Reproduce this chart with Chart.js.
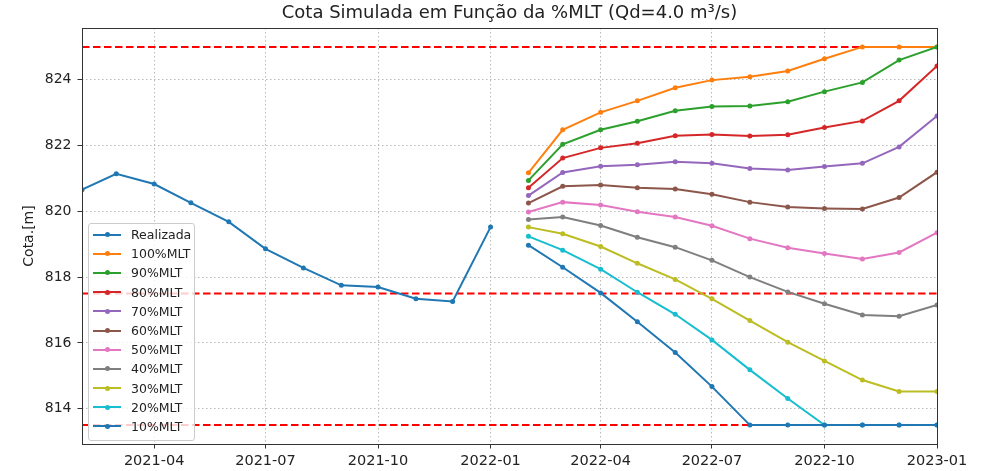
<!DOCTYPE html>
<html>
<head>
<meta charset="utf-8">
<script src="https://cdn.jsdelivr.net/npm/chart.js@4"></script>
<style>
  html, body { margin: 0; padding: 0; background: #fff; }
  #wrap { position: relative; width: 985px; height: 471px; }
  #legend {
    position: absolute; left: 88px; top: 223px; width: 105px;
    background: rgba(255,255,255,0.8); border: 1px solid #cccccc; border-radius: 3px;
    padding: 1px 0 4px 0; font-family: 'DejaVu Sans', sans-serif; font-size: 12.5px; color: #222;
    box-sizing: content-box;
  }
  .row { height: 19.2px; line-height: 19.2px; display: flex; align-items: center; white-space: nowrap; }
  .sample { position: relative; width: 28px; height: 19.2px; margin-left: 4px; margin-right: 10px; flex: none; }
  .sample .ln { position: absolute; left: 0; right: 0; top: 8.6px; height: 2px; }
  .sample .dt { position: absolute; left: 11.5px; top: 7.1px; width: 5px; height: 5px; border-radius: 50%; }
</style>
</head>
<body>
<div id="wrap">
  <canvas id="c" width="985" height="471"></canvas>
  <div id="legend"></div>
</div>
<script>
// ---- data ----
const realizadaDates = ['2021-02','2021-03','2021-04','2021-05','2021-06','2021-07','2021-08','2021-09','2021-10','2021-11','2021-12','2022-01'];
const realizada = [820.66, 821.14, 820.83, 820.26, 819.68, 818.86, 818.28, 817.75, 817.70, 817.34, 817.26, 819.52];

const simDates = ['2022-02','2022-03','2022-04','2022-05','2022-06','2022-07','2022-08','2022-09','2022-10','2022-11','2022-12','2023-01'];
const mlt100 = [821.17, 822.48, 823.01, 823.36, 823.76, 823.99, 824.09, 824.27, 824.64, 825.00, 825.00, 825.00];
const mlt90  = [820.94, 822.04, 822.48, 822.74, 823.06, 823.19, 823.20, 823.33, 823.64, 823.92, 824.60, 825.00];
const mlt80  = [820.72, 821.62, 821.93, 822.07, 822.30, 822.34, 822.29, 822.33, 822.55, 822.75, 823.36, 824.42];
const mlt70  = [820.48, 821.18, 821.37, 821.42, 821.51, 821.46, 821.30, 821.26, 821.36, 821.46, 821.96, 822.90];
const mlt60  = [820.25, 820.76, 820.80, 820.72, 820.68, 820.52, 820.28, 820.13, 820.09, 820.07, 820.42, 821.19];
const mlt50  = [819.98, 820.28, 820.19, 819.99, 819.83, 819.56, 819.17, 818.89, 818.72, 818.55, 818.75, 819.35];
const mlt40  = [819.75, 819.83, 819.57, 819.21, 818.91, 818.51, 818.00, 817.55, 817.19, 816.85, 816.81, 817.15];
const mlt30  = [819.52, 819.32, 818.93, 818.42, 817.93, 817.34, 816.68, 816.02, 815.45, 814.87, 814.52, 814.52];
const mlt20  = [819.24, 818.82, 818.24, 817.54, 816.87, 816.09, 815.18, 814.31, 813.50, 813.50, 813.50, 813.50];
const mlt10  = [818.97, 818.30, 817.52, 816.64, 815.71, 814.67, 813.50, 813.50, 813.50, 813.50, 813.50, 813.50];

const limitLevels = [825.0, 817.5, 813.5];
const xTickLabels = ['2021-04','2021-07','2021-10','2022-01','2022-04','2022-07','2022-10','2023-01'];
const yTickValues = [814, 816, 818, 820, 822, 824];
const xRange = ['2021-02', '2023-01'];
const yRange = [812.925, 825.575];

// ---- helpers ----
function ym(s) { const [y, m] = s.split('-').map(Number); return Date.UTC(y, m - 1, 1); }
function fmt(v) { const d = new Date(v); return d.getUTCFullYear() + '-' + String(d.getUTCMonth() + 1).padStart(2, '0'); }
function pts(dates, vals) { return dates.map((d, i) => ({ x: ym(d), y: vals[i] })); }

const series = [
  { label: 'Realizada', dates: realizadaDates, vals: realizada, color: '#1f77b4' },
  { label: '100%MLT', dates: simDates, vals: mlt100, color: '#ff7f0e' },
  { label: '90%MLT',  dates: simDates, vals: mlt90,  color: '#2ca02c' },
  { label: '80%MLT',  dates: simDates, vals: mlt80,  color: '#d62728' },
  { label: '70%MLT',  dates: simDates, vals: mlt70,  color: '#9467bd' },
  { label: '60%MLT',  dates: simDates, vals: mlt60,  color: '#8c564b' },
  { label: '50%MLT',  dates: simDates, vals: mlt50,  color: '#e377c2' },
  { label: '40%MLT',  dates: simDates, vals: mlt40,  color: '#7f7f7f' },
  { label: '30%MLT',  dates: simDates, vals: mlt30,  color: '#bcbd22' },
  { label: '20%MLT',  dates: simDates, vals: mlt20,  color: '#17becf' },
  { label: '10%MLT',  dates: simDates, vals: mlt10,  color: '#1f77b4' }
];

const xMin = ym(xRange[0]), xMax = ym(xRange[1]);

const datasets = [];
limitLevels.forEach((lv, i) => {
  datasets.push({
    label: 'limite ' + lv, data: [{ x: xMin, y: lv }, { x: xMax, y: lv }],
    borderColor: '#ff0000', borderWidth: 2, borderDash: [7.5, 3.5], pointRadius: 0,
    fill: false, order: 100
  });
});
series.forEach((s, i) => {
  datasets.push({
    label: s.label, data: pts(s.dates, s.vals),
    borderColor: s.color, backgroundColor: s.color, pointBackgroundColor: s.color,
    pointBorderColor: s.color, pointRadius: 2.5, pointBorderWidth: 0, borderWidth: 2,
    tension: 0, fill: false, order: 50 - i
  });
});

const framePlugin = {
  id: 'frame',
  afterDatasetsDraw(chart) {
    const a = chart.chartArea, ctx = chart.ctx;
    ctx.save();
    ctx.strokeStyle = '#333';
    ctx.lineWidth = 1;
    ctx.strokeRect(Math.round(a.left) + 0.5, Math.round(a.top) + 0.5, Math.round(a.right - a.left), Math.round(a.bottom - a.top));
    ctx.restore();
  }
};

Chart.defaults.font.family = "'DejaVu Sans', sans-serif";
Chart.defaults.color = '#222';

new Chart(document.getElementById('c'), {
  type: 'line',
  data: { datasets },
  options: {
    responsive: false, animation: false, devicePixelRatio: 1,
    layout: { padding: { left: 0, right: 48, top: 0, bottom: 0 } },
    plugins: {
      legend: { display: false },
      tooltip: { enabled: false },
      title: {
        display: true, fullSize: false,
        text: 'Cota Simulada em Função da %MLT (Qd=4.0 m³/s)',
        font: { size: 18, weight: 'normal' }, color: '#222',
        padding: { top: 2.5, bottom: 3.9 }
      }
    },
    scales: {
      x: {
        type: 'linear', min: xMin, max: xMax,
        afterBuildTicks(scale) { scale.ticks = xTickLabels.map(l => ({ value: ym(l) })); },
        afterFit(scale) { scale.height = 27; },
        ticks: { callback: v => fmt(v), font: { size: 14.5 }, color: '#222', padding: 4, maxRotation: 0, autoSkip: false },
        grid: { color: '#b8b8b8', lineWidth: 1, drawTicks: true, tickLength: 4.5, tickColor: '#333', tickBorderDash: [] },
        border: { display: false, dash: [1.5, 2.5] }
      },
      y: {
        type: 'linear', min: yRange[0], max: yRange[1],
        afterBuildTicks(scale) { scale.ticks = yTickValues.map(v => ({ value: v })); },
        afterFit(scale) { scale.width = 82; },
        ticks: { callback: v => String(v), font: { size: 14 }, color: '#222', padding: 6 },
        grid: { color: '#b8b8b8', lineWidth: 1, drawTicks: true, tickLength: 4.5, tickColor: '#333', tickBorderDash: [] },
        border: { display: false, dash: [1.5, 2.5] },
        title: { display: true, text: 'Cota.[m]', font: { size: 14 }, color: '#222', padding: { top: 21, bottom: 0 } }
      }
    }
  },
  plugins: [framePlugin]
});

// HTML legend built from the same series list
const lg = document.getElementById('legend');
series.forEach(s => {
  const row = document.createElement('div'); row.className = 'row';
  const sm = document.createElement('div'); sm.className = 'sample';
  const ln = document.createElement('div'); ln.className = 'ln'; ln.style.background = s.color;
  const dt = document.createElement('div'); dt.className = 'dt'; dt.style.background = s.color;
  sm.appendChild(ln); sm.appendChild(dt);
  const tx = document.createElement('span'); tx.textContent = s.label;
  row.appendChild(sm); row.appendChild(tx);
  lg.appendChild(row);
});
</script>
</body>
</html>
